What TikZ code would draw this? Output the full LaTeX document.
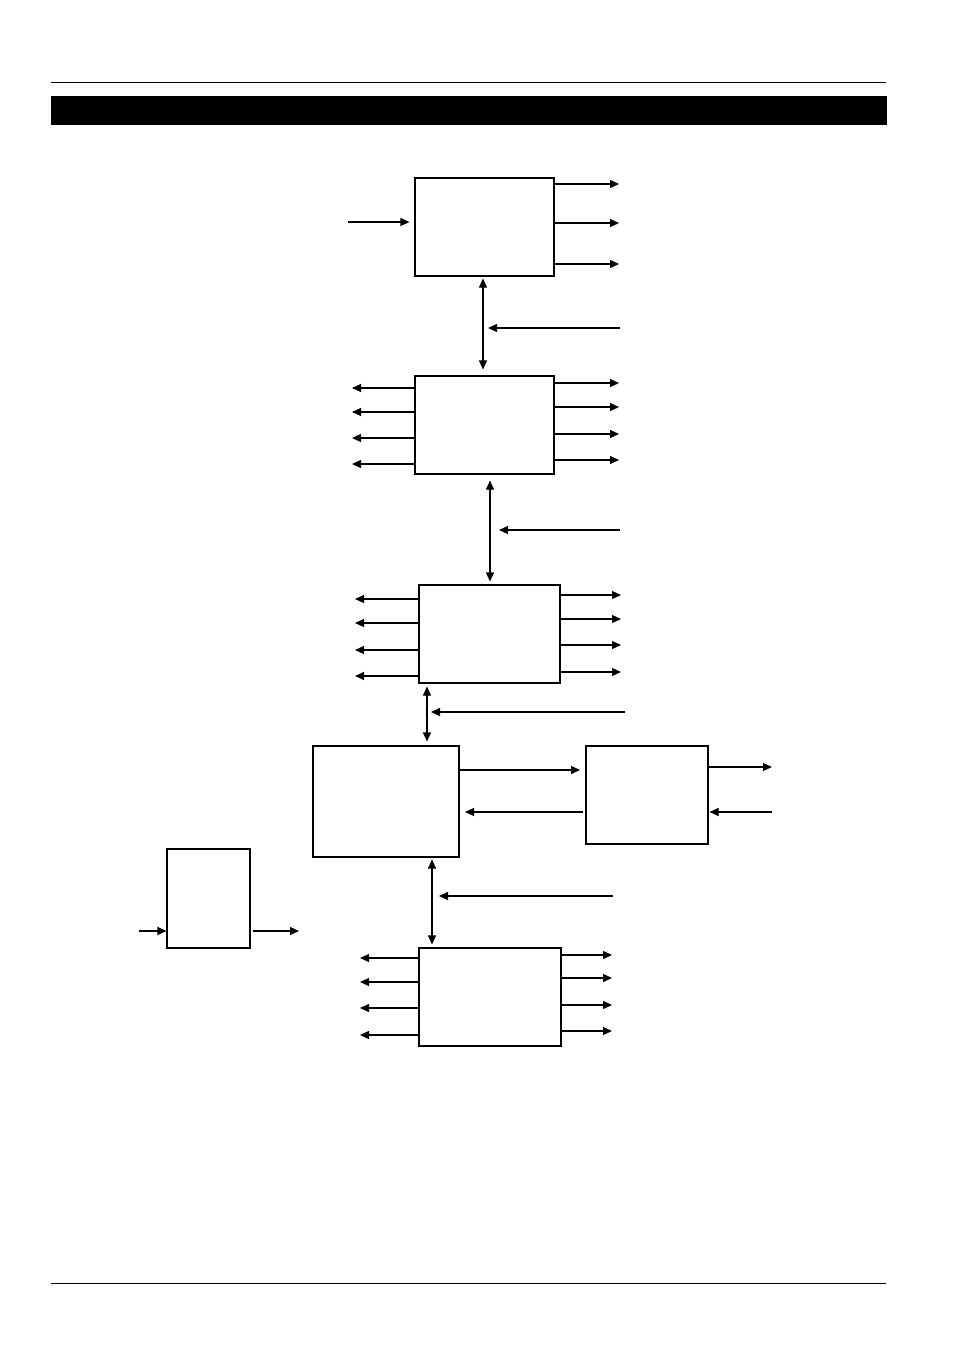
\documentclass[tikz,border=0pt]{standalone}
\usetikzlibrary{arrows.meta,calc}
\tikzset{
	blk/.style={draw, line width=1.1pt, inner sep=0pt, fill=white},
	arr/.style={line width=1.1pt, -{Triangle[length=9pt,width=8pt]}},
	darr/.style={line width=1.1pt, {Triangle[length=9pt,width=8pt]}-{Triangle[length=9pt,width=8pt]}}
}
\begin{document}
\begin{tikzpicture}[x=1pt,y=-1pt]
			%%%%% START %%%%%
			\useasboundingbox (0,0) rectangle (954,1358);
			
			\draw[line width=1pt] (51,82) -- (886,82);
			\fill[black] (51,96) rectangle (887,125);
			\draw[line width=1pt] (51,1283) -- (886,1283);
			
			% blocks
			\node[blk, minimum width=139pt, minimum height=98pt] (boxA) at (484.5,227) {};
			\node[blk, minimum width=139pt, minimum height=98pt] (boxB) at (484.5,425) {};
			\node[blk, minimum width=141pt, minimum height=98pt] (boxC) at (489.5,634) {};
			\node[blk, minimum width=146pt, minimum height=111pt] (boxD) at (386,801.5) {};
			\node[blk, minimum width=122pt, minimum height=98pt] (boxE) at (647,795) {};
			\node[blk, minimum width=83pt, minimum height=99pt] (boxF) at (208.5,898.5) {};
			\node[blk, minimum width=142pt, minimum height=98pt] (boxG) at (490,997) {};
			
			% top block
			\draw[arr, shorten >=5pt] (348,222) -- (boxA.west |- 0,222);
			\foreach \y in {184,223,264}
				\draw[arr] (boxA.east |- 0,\y) -- (619,\y);
			\draw[darr, shorten <=2pt, shorten >=6pt] (boxA.south -| 483,0) -- (boxB.north -| 483,0);
			\draw[arr] (620,328) -- (488,328);
			
			% second block
			\foreach \y in {388,412,438,464}
				\draw[arr] (boxB.west |- 0,\y) -- (352,\y);
			\foreach \y in {383,407,434,460}
				\draw[arr] (boxB.east |- 0,\y) -- (619,\y);
			\draw[darr, shorten <=6pt, shorten >=3pt] (boxB.south -| 490,0) -- (boxC.north -| 490,0);
			\draw[arr] (620,530) -- (499,530);
			
			% third block
			\foreach \y in {599,623,650,676}
				\draw[arr] (boxC.west |- 0,\y) -- (355,\y);
			\foreach \y in {595,619,645,672}
				\draw[arr] (boxC.east |- 0,\y) -- (621,\y);
			\draw[darr, shorten <=3pt, shorten >=4pt] (boxC.south -| 427,0) -- (boxD.north -| 427,0);
			\draw[arr] (625,712) -- (431,712);
			
			% fourth block and side block
			\draw[arr] (boxD.east |- 0,770) -- (580,770);
			\draw[arr] (583,812) -- (465,812);
			\draw[arr] (boxE.east |- 0,767) -- (772,767);
			\draw[arr, shorten >=1pt] (772,812) -- (boxE.east |- 0,812);
			\draw[darr, shorten <=2pt, shorten >=3pt] (boxD.south -| 432,0) -- (boxG.north -| 432,0);
			\draw[arr] (613,896) -- (439,896);
			
			% small block
			\draw[arr] (139,931) -- (boxF.west |- 0,931);
			\draw[arr] (253,931) -- (299,931);
			
			% bottom block
			\foreach \y in {958,982,1008,1035}
				\draw[arr] (boxG.west |- 0,\y) -- (360,\y);
			\foreach \y in {955,978,1005,1031}
				\draw[arr] (boxG.east |- 0,\y) -- (612,\y);
			
			%%%%% END %%%%%
\end{tikzpicture}
\end{document}
